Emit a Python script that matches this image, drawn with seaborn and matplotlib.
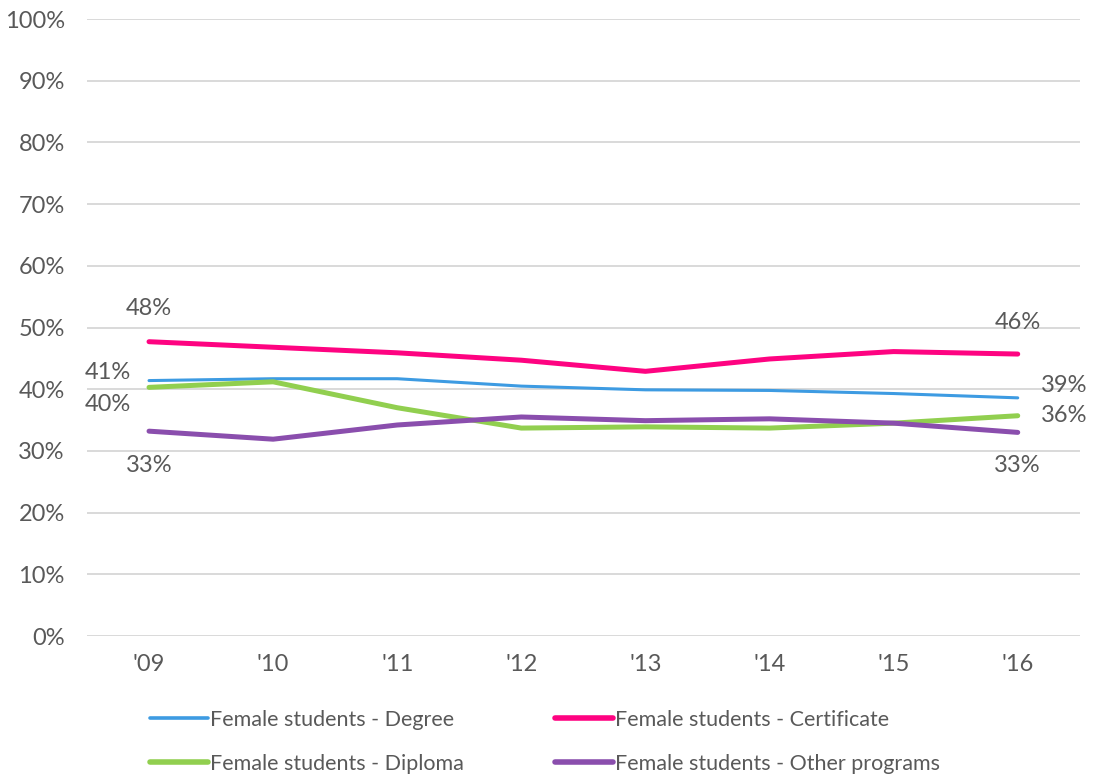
import matplotlib
matplotlib.use("Agg")
import matplotlib.pyplot as plt
import pandas as pd
import seaborn as sns
from matplotlib.lines import Line2D

years = ["'09", "'10", "'11", "'12", "'13", "'14", "'15", "'16"]
degree = [0.414, 0.417, 0.417, 0.405, 0.399, 0.398, 0.393, 0.386]
certificate = [0.477, 0.468, 0.459, 0.447, 0.429, 0.449, 0.461, 0.457]
diploma = [0.403, 0.412, 0.370, 0.337, 0.339, 0.337, 0.345, 0.357]
other = [0.332, 0.319, 0.342, 0.355, 0.349, 0.352, 0.345, 0.330]

series_names = [
    "Female students - Degree",
    "Female students - Certificate",
    "Female students - Diploma",
    "Female students - Other programs",
]
colors = ["#3d9be2", "#fe0381", "#91cf4f", "#8a4ead"]
widths = [2.2, 3.6, 3.6, 3.6]
y_ticks = [i / 10 for i in range(11)]
y_labels = [f"{i * 10}%" for i in range(11)]

TEXT = "#595959"

sns.set_theme(style="white")
plt.rcParams["font.family"] = ["Lato", "DejaVu Sans"]

df = pd.DataFrame({
    "year": years * 4,
    "x": list(range(len(years))) * 4,
    "value": degree + certificate + diploma + other,
    "series": [n for n in series_names for _ in years],
})

fig = plt.figure(figsize=(10.94, 7.76), dpi=100)
ax = fig.add_axes([0.0795, 0.1804, 0.9075, 0.7951])

for name, color, lw in zip(series_names, colors, widths):
    sns.lineplot(
        data=df[df["series"] == name], x="x", y="value",
        color=color, linewidth=lw, ax=ax, legend=False,
        solid_capstyle="round",
    )

ax.set_xlim(-0.5, len(years) - 0.5)
ax.set_ylim(0, 1)
ax.set_xticks(range(len(years)))
ax.set_xticklabels(years)
ax.set_yticks(y_ticks)
ax.set_yticklabels(y_labels)
ax.set_xlabel("")
ax.set_ylabel("")
ax.tick_params(axis="both", length=0, labelsize=17, labelcolor=TEXT, pad=16)
ax.tick_params(axis="x", pad=13)
ax.yaxis.grid(True, color="#d9d9d9", linewidth=1.4)
ax.set_axisbelow(True)
sns.despine(ax=ax, left=True, bottom=True)

# end labels
def label(i, vals, dx, dy, ha):
    ax.annotate(f"{round(vals[i] * 100):.0f}%", xy=(i, vals[i]), xytext=(dx, dy),
                textcoords="offset points", ha=ha, va="center",
                fontsize=17, color=TEXT)

last = len(years) - 1
label(0, certificate, 0, 24, "center")
label(0, degree, -13, 6, "right")
label(0, diploma, -13, -12, "right")
label(0, other, 0, -25, "center")
label(last, certificate, 0, 23, "center")
label(last, degree, 17, 9, "left")
label(last, diploma, 17, 0, "left")
label(last, other, 0, -24, "center")

# legend filled row by row
order = [0, 2, 1, 3]
handles = [Line2D([0], [0], color=colors[i], linewidth=widths[i] + 0.4,
                  solid_capstyle="round") for i in order]
labels = [series_names[i] for i in order]
leg = fig.legend(
    handles, labels, ncol=2, loc="lower left",
    bbox_to_anchor=(0.119, -0.022), frameon=False, fontsize=15.5,
    handlelength=2.7, handletextpad=0.1, columnspacing=4.25,
    labelspacing=1.1,
)
for t in leg.get_texts():
    t.set_color(TEXT)

fig.savefig("out.png", dpi=100)
